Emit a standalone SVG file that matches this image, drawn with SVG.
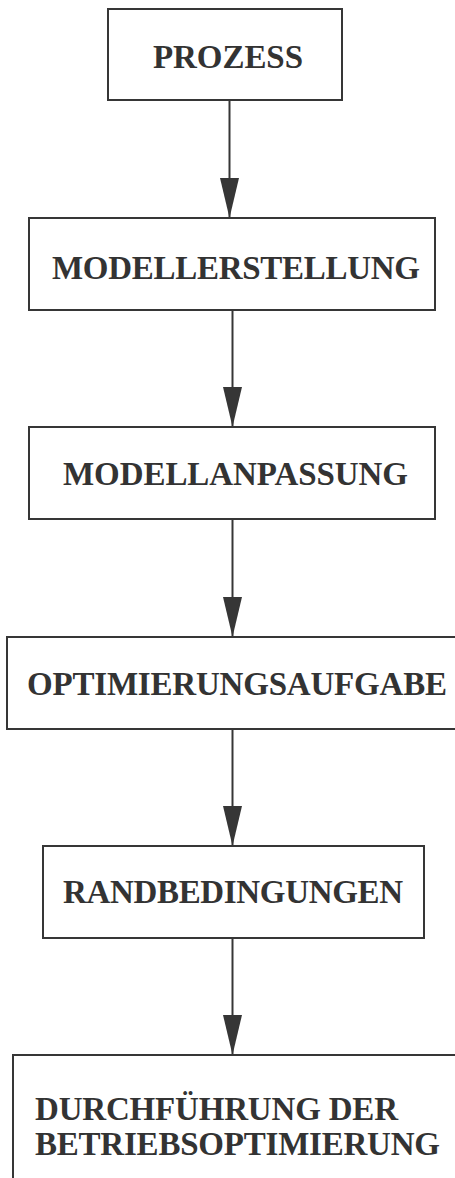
<svg xmlns="http://www.w3.org/2000/svg" width="455" height="1178" viewBox="0 0 455 1178">
  <style>
    .box { fill: #ffffff; stroke: #363636; stroke-width: 2; }
    .label { font-family: "Liberation Serif", "Times New Roman", serif; font-weight: bold; font-size: 33px; fill: #333333; }
    .mid { text-anchor: middle; }
    .edge { stroke: #363636; stroke-width: 2; fill: none; marker-end: url(#head); }
  </style>
  <defs>
    <marker id="head" markerUnits="userSpaceOnUse" viewBox="0 0 40 20" refX="40" refY="10" markerWidth="40" markerHeight="20" orient="auto">
      <path d="M0,0.5 L40,10 L0,19.5 Z" fill="#363636"/>
    </marker>
  </defs>
  <rect width="455" height="1178" fill="#ffffff"/>

  <g id="connectors">
    <line class="edge" x1="229.5" y1="100" x2="229.5" y2="218"/>
    <line class="edge" x1="232.5" y1="310" x2="232.5" y2="427"/>
    <line class="edge" x1="232.5" y1="519" x2="232.5" y2="637"/>
    <line class="edge" x1="232.5" y1="729" x2="232.5" y2="846"/>
    <line class="edge" x1="232.5" y1="938" x2="232.5" y2="1055"/>
  </g>

  <g id="prozess">
    <rect class="box" x="108" y="9" width="234" height="91"/>
    <text class="label mid" x="228" y="68" textLength="150" lengthAdjust="spacing">PROZESS</text>
  </g>

  <g id="modellerstellung">
    <rect class="box" x="29" y="218" width="406" height="92"/>
    <text class="label mid" x="236" y="279" textLength="368" lengthAdjust="spacing">MODELLERSTELLUNG</text>
  </g>

  <g id="modellanpassung">
    <rect class="box" x="29" y="427" width="406" height="92"/>
    <text class="label mid" x="235.5" y="485" textLength="345" lengthAdjust="spacing">MODELLANPASSUNG</text>
  </g>

  <g id="optimierungsaufgabe">
    <rect class="box" x="7" y="637" width="460" height="92"/>
    <text class="label mid" x="237" y="695" textLength="420" lengthAdjust="spacing">OPTIMIERUNGSAUFGABE</text>
  </g>

  <g id="randbedingungen">
    <rect class="box" x="43" y="846" width="381" height="92"/>
    <text class="label mid" x="233" y="903" textLength="340" lengthAdjust="spacing">RANDBEDINGUNGEN</text>
  </g>

  <g id="durchfuehrung">
    <rect class="box" x="13" y="1055" width="460" height="140"/>
    <text class="label" x="35" y="1120" textLength="363" lengthAdjust="spacing">DURCHFÜHRUNG DER</text>
    <text class="label" x="35" y="1155" textLength="405" lengthAdjust="spacing">BETRIEBSOPTIMIERUNG</text>
  </g>
</svg>
